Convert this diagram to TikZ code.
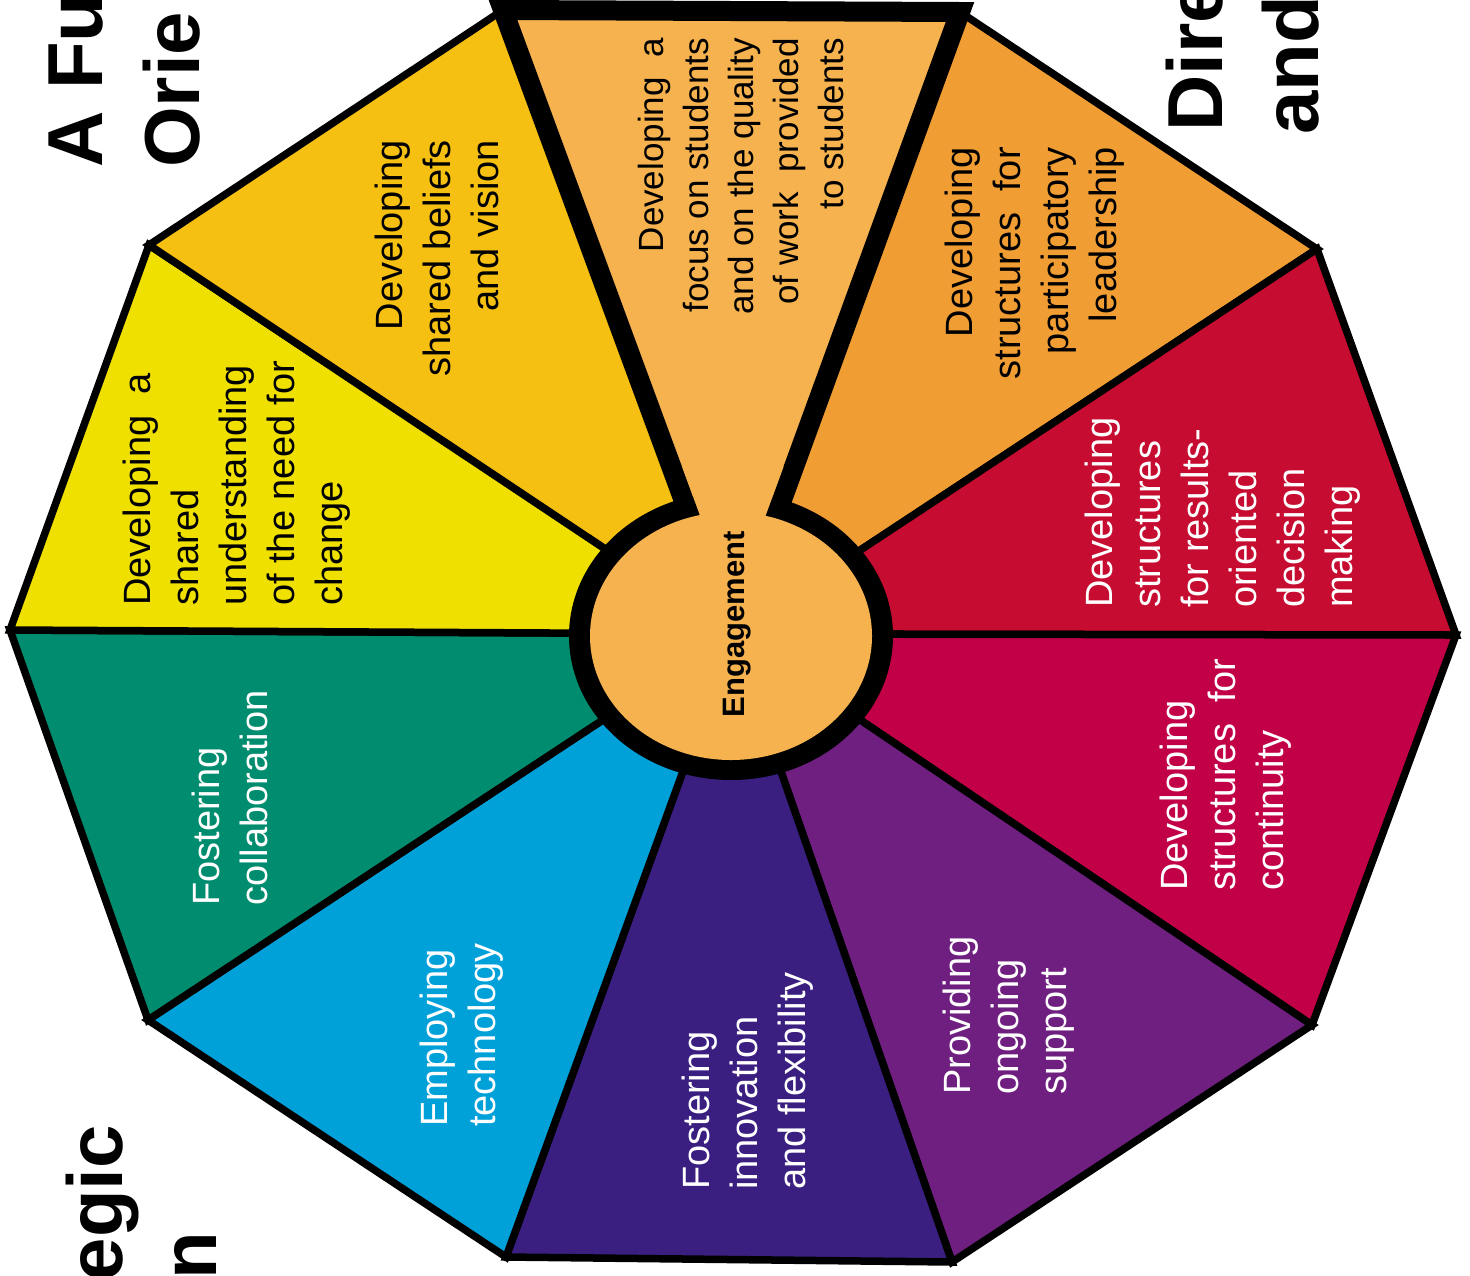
\documentclass[tikz,border=0pt]{standalone}
\usepackage{fontspec}
\setmainfont{Liberation Sans}
\usetikzlibrary{calc}
\definecolor{cHub}{HTML}{F5B24F}
\definecolor{cOrange}{HTML}{F09D33}
\definecolor{cRed}{HTML}{C60C30}
\definecolor{cCrimson}{HTML}{C20048}
\definecolor{cPurple}{HTML}{6F1F80}
\definecolor{cIndigo}{HTML}{3B1F80}
\definecolor{cCyan}{HTML}{00A0D8}
\definecolor{cTeal}{HTML}{008C6E}
\definecolor{cYellow}{HTML}{F0E000}
\definecolor{cGold}{HTML}{F5C012}
\begin{document}
\begin{tikzpicture}[x=1bp,y=-1bp,
  seg/.style={draw=black,line width=7.5bp,line join=miter},
  lbl/.style={rotate=90,inner sep=0pt,font=\fontsize{38bp}{48bp}\selectfont},
  lblsmall/.style={rotate=90,inner sep=0pt,font=\fontsize{35bp}{45bp}\selectfont},
  ttl/.style={rotate=90,inner sep=0pt,font=\bfseries\fontsize{78bp}{94bp}\selectfont}]
\useasboundingbox (0,0) rectangle (1470,1275);
\fill[white] (0,0) rectangle (1470,1275);
% decagon vertices and centre
\coordinate (O) at (733,634);
\coordinate (A) at (503,10);
\coordinate (B) at (960,12);
\coordinate (C) at (1317,249);
\coordinate (D) at (1456,635);
\coordinate (E) at (1312,1025);
\coordinate (F) at (952,1262);
\coordinate (G) at (506,1257);
\coordinate (H) at (148,1020);
\coordinate (I) at (10,630);
\coordinate (J) at (149,245);
% sectors
\filldraw[seg,fill=cHub]     (O) -- (A) -- (B) -- cycle;
\filldraw[seg,fill=cOrange]  (O) -- (B) -- (C) -- cycle;
\filldraw[seg,fill=cRed]     (O) -- (C) -- (D) -- cycle;
\filldraw[seg,fill=cCrimson] (O) -- (D) -- (E) -- cycle;
\filldraw[seg,fill=cPurple]  (O) -- (E) -- (F) -- cycle;
\filldraw[seg,fill=cIndigo]  (O) -- (F) -- (G) -- cycle;
\filldraw[seg,fill=cCyan]    (O) -- (G) -- (H) -- cycle;
\filldraw[seg,fill=cTeal]    (O) -- (H) -- (I) -- cycle;
\filldraw[seg,fill=cYellow]  (O) -- (I) -- (J) -- cycle;
\filldraw[seg,fill=cGold]    (O) -- (J) -- (A) -- cycle;
% hub ring
\fill[black] (731,636) ellipse [x radius=162bp, y radius=144bp];
% highlighted wedge border
\draw[line width=20bp,line join=miter] ($(A)!0.8!(O)$) -- (A) -- (B) -- ($(B)!0.8!(O)$);
\fill[cHub] (731,636) ellipse [x radius=141bp, y radius=124bp];
\fill[cHub] (682,466.5) -- (704,526.5) -- (761.6,526.6) -- (783.6,466.6) -- cycle;
\node[rotate=90,inner sep=0pt,font=\bfseries\fontsize{31bp}{37bp}\selectfont] (hub) at (737,624) {Engagement};
% sector labels
\node[lblsmall,anchor=north east,align=right] (t1) at (638,38)
  {Developing\ \ a\\focus on students\\and on the quality\\of work\ \ provided\\to students};
\node[lbl,anchor=north east,align=right] (t2) at (945,147)
  {Developing\\structures\ \ for\\participatory\\leadership};
\node[lbl,anchor=north west,align=left,text=white] (t3) at (1085,608)
  {Developing\\structures\\for results-\\oriented\\decision\\making};
\node[lbl,anchor=north west,align=left,text=white] (t4) at (1160,891)
  {Developing\\structures\ \ for\\continuity};
\node[lbl,anchor=north west,align=left,text=white] (t5) at (943,1095)
  {Providing\\ongoing\\support};
\node[lbl,anchor=north west,align=left,text=white] (t6) at (682,1190)
  {Fostering\\innovation\\and flexibility};
\node[lbl,anchor=north west,align=left,text=white] (t7) at (420,1127)
  {Employing\\technology};
\node[lbl,anchor=north west,align=left,text=white] (t8) at (192,906)
  {Fostering\\collaboration};
\node[lbl,anchor=north west,align=left] (t9) at (123,606)
  {Developing\ \ a\\shared\\understanding\\of the need for\\change};
\node[lbl,anchor=north east,align=right] (t10) at (375,140)
  {Developing\\shared beliefs\\and vision};
% title fragments
\node[ttl,anchor=base west] (ttl1) at (102,168) {A Fu};
\node[ttl,anchor=base west] (ttl2) at (199,168) {Orie};
\node[ttl,anchor=base west] (ttl3) at (1222,132) {Dire};
\node[ttl,anchor=base west] (ttl4) at (1318,135) {and};
\node[ttl,anchor=base east] (ttl5) at (122,1125) {egic};
\node[ttl,anchor=base east] (ttl6) at (216,1232) {n};
\end{tikzpicture}
\end{document}
